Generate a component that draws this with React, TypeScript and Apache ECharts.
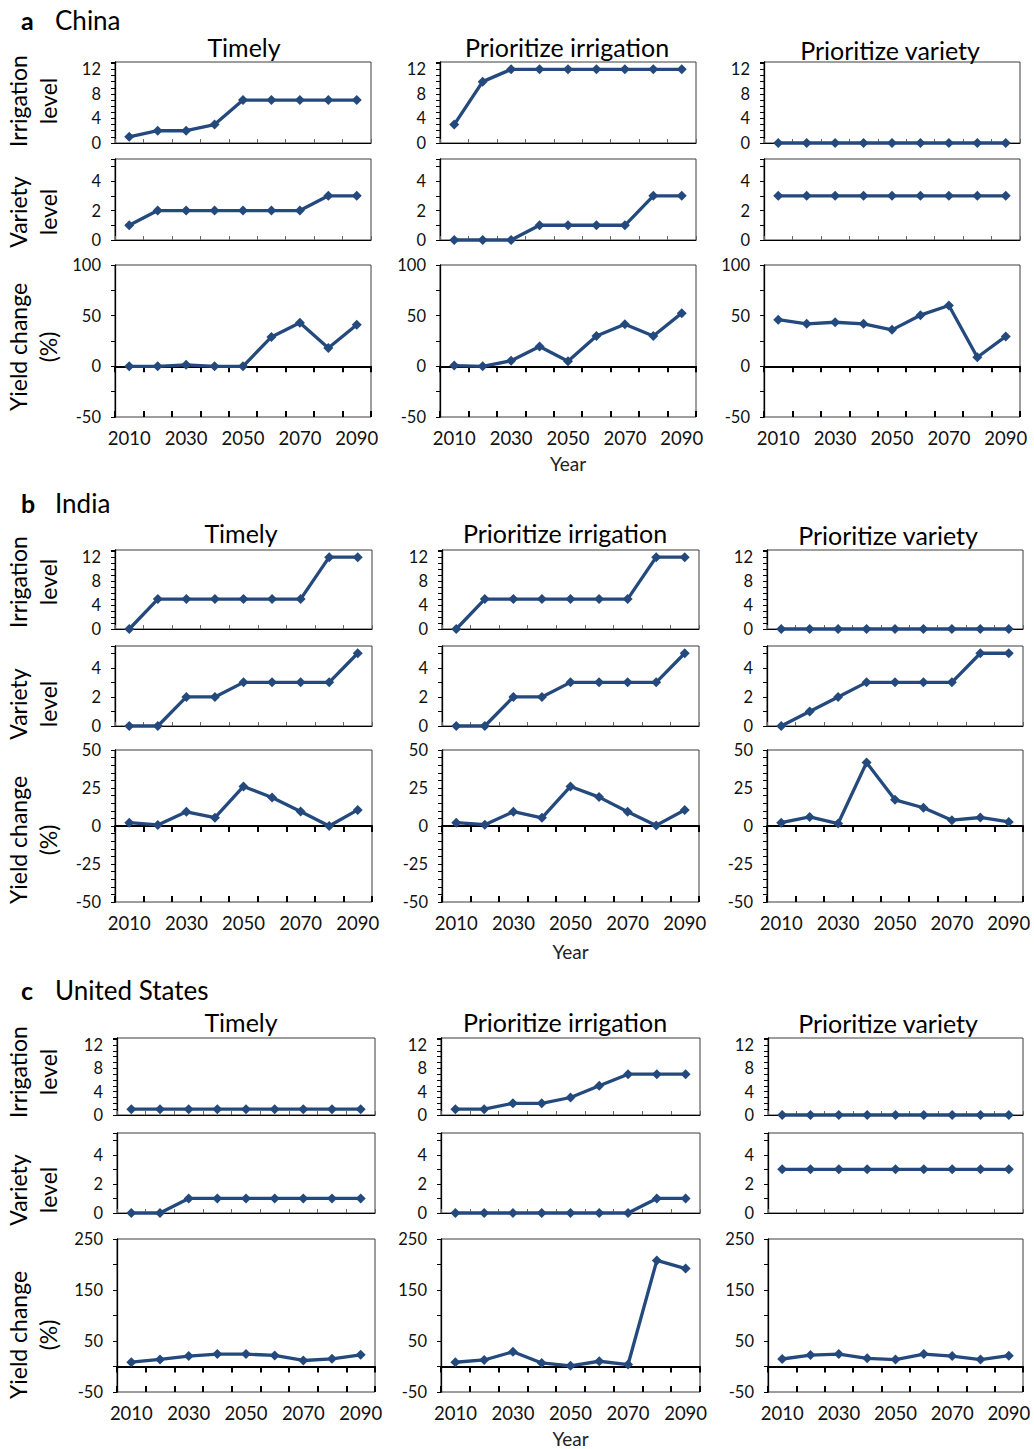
import React, { useEffect, useRef } from 'react';
import * as echarts from 'echarts';

// ---------- data ----------
const years = ['2010', '2020', '2030', '2040', '2050', '2060', '2070', '2080', '2090'];
const panelLetters = ['a', 'b', 'c'];
const countries = ['China', 'India', 'United States'];
const strategies = ['Timely', 'Prioritize irrigation', 'Prioritize variety'];
const rowNames = ['Irrigation\nlevel', 'Variety\nlevel', 'Yield change\n(%)'];

// China
const chinaTimelyIrrigation = [1, 2, 2, 3, 7, 7, 7, 7, 7];
const chinaTimelyVariety = [1, 2, 2, 2, 2, 2, 2, 3, 3];
const chinaTimelyYield = [0, 0, 1.5, 0, 0, 29, 43, 18, 41];
const chinaIrrFirstIrrigation = [3, 10, 12, 12, 12, 12, 12, 12, 12];
const chinaIrrFirstVariety = [0, 0, 0, 1, 1, 1, 1, 3, 3];
const chinaIrrFirstYield = [0.7, 0, 5.5, 19.5, 5, 30, 41.5, 30, 52.5];
const chinaVarFirstIrrigation = [0, 0, 0, 0, 0, 0, 0, 0, 0];
const chinaVarFirstVariety = [3, 3, 3, 3, 3, 3, 3, 3, 3];
const chinaVarFirstYield = [46, 42, 43.5, 42, 36, 50.5, 60, 9, 29.5];

// India
const indiaTimelyIrrigation = [0, 5, 5, 5, 5, 5, 5, 12, 12];
const indiaTimelyVariety = [0, 0, 2, 2, 3, 3, 3, 3, 5];
const indiaTimelyYield = [2.2, 0.7, 9.3, 5.5, 26, 18.8, 9.5, 0, 10.6];
const indiaIrrFirstIrrigation = [0, 5, 5, 5, 5, 5, 5, 12, 12];
const indiaIrrFirstVariety = [0, 0, 2, 2, 3, 3, 3, 3, 5];
const indiaIrrFirstYield = [2.2, 0.9, 9.4, 5.4, 26, 19, 9.4, 0.4, 10.5];
const indiaVarFirstIrrigation = [0, 0, 0, 0, 0, 0, 0, 0, 0];
const indiaVarFirstVariety = [0, 1, 2, 3, 3, 3, 3, 5, 5];
const indiaVarFirstYield = [2.2, 6, 1.6, 41.7, 17.2, 12, 3.8, 5.6, 2.7];

// United States
const usTimelyIrrigation = [1, 1, 1, 1, 1, 1, 1, 1, 1];
const usTimelyVariety = [0, 0, 1, 1, 1, 1, 1, 1, 1];
const usTimelyYield = [8.5, 13.8, 20.4, 24.3, 24.3, 21.7, 11.8, 15, 23];
const usIrrFirstIrrigation = [1, 1, 2, 2, 3, 5, 7, 7, 7];
const usIrrFirstVariety = [0, 0, 0, 0, 0, 0, 0, 1, 1];
const usIrrFirstYield = [8.3, 12.8, 28.8, 7, 1.3, 10.3, 3.8, 208, 192];
const usVarFirstIrrigation = [0, 0, 0, 0, 0, 0, 0, 0, 0];
const usVarFirstVariety = [3, 3, 3, 3, 3, 3, 3, 3, 3];
const usVarFirstYield = [14.7, 22.4, 24.4, 16, 13.5, 24.4, 20.5, 13.5, 21.2];

// [region][strategy][irrigation, variety, yield]
const dataTable = [
  [
    [chinaTimelyIrrigation, chinaTimelyVariety, chinaTimelyYield],
    [chinaIrrFirstIrrigation, chinaIrrFirstVariety, chinaIrrFirstYield],
    [chinaVarFirstIrrigation, chinaVarFirstVariety, chinaVarFirstYield],
  ],
  [
    [indiaTimelyIrrigation, indiaTimelyVariety, indiaTimelyYield],
    [indiaIrrFirstIrrigation, indiaIrrFirstVariety, indiaIrrFirstYield],
    [indiaVarFirstIrrigation, indiaVarFirstVariety, indiaVarFirstYield],
  ],
  [
    [usTimelyIrrigation, usTimelyVariety, usTimelyYield],
    [usIrrFirstIrrigation, usIrrFirstVariety, usIrrFirstYield],
    [usVarFirstIrrigation, usVarFirstVariety, usVarFirstYield],
  ],
];

// axis scales: [min, max, tickStep, labelStep]
const irrigationScale = [0, 13.2, 1, 4];
const varietyScale = [0, 5.5, 1, 2];
const yieldScales = [
  [-50, 100, 25, 50],
  [-50, 50, 5, 25],
  [-50, 250, 50, 100],
];

// ---------- layout ----------
const layouts = [
  {
    tops: [62, 159, 265], bottoms: [143, 240, 417],
    cols: [[115, 371], [440, 696], [764, 1020]],
    sectionY: 20, titleY: [47, 47, 50], titleX: [244, 567, 890],
    yearY: 463, nameY: [101, 212, 347],
  },
  {
    tops: [550, 646, 750], bottoms: [629, 726, 902],
    cols: [[115, 372], [442, 699], [767, 1023]],
    sectionY: 503, titleY: [533, 533, 535], titleX: [241, 565, 888],
    yearY: 951, nameY: [582, 704, 840],
  },
  {
    tops: [1038, 1133, 1239], bottoms: [1115, 1213, 1392],
    cols: [[117, 375], [441, 700], [768, 1023]],
    sectionY: 990, titleY: [1022, 1022, 1023], titleX: [241, 565, 888],
    yearY: 1438, nameY: [1072, 1190, 1335],
  },
];

const FONT = 'Lato, "Open Sans", sans-serif';
const LINE_COLOR = '#24497d';

function labelFormatter(min: number, step: number) {
  return (v: number) => {
    const r = Math.abs((v - min) % step);
    return r < 1e-6 || Math.abs(r - step) < 1e-6 ? String(v) : '';
  };
}

function buildOption() {
  const grid: any[] = [];
  const xAxis: any[] = [];
  const yAxis: any[] = [];
  const series: any[] = [];
  const graphic: any[] = [];

  layouts.forEach((L, r) => {
    graphic.push({
      type: 'text', x: 21, y: L.sectionY,
      style: { text: panelLetters[r], fontSize: 25, fontWeight: 'bold', fontFamily: FONT, fill: '#000', verticalAlign: 'middle', textVerticalAlign: 'middle' },
    });
    graphic.push({
      type: 'text', x: 55, y: L.sectionY,
      style: { text: countries[r], fontSize: 26, fontFamily: FONT, fill: '#000', verticalAlign: 'middle', textVerticalAlign: 'middle' },
    });
    for (let p = 0; p < 3; p++) {
      graphic.push({
        type: 'text', x: 33, y: L.nameY[p], rotation: Math.PI / 2,
        style: {
          text: rowNames[p], fontSize: 23, lineHeight: 30, fontFamily: FONT, fill: '#000',
          align: 'center', verticalAlign: 'middle', textAlign: 'center', textVerticalAlign: 'middle',
        },
      });
    }
    graphic.push({
      type: 'text', x: (L.cols[1][0] + L.cols[1][1]) / 2, y: L.yearY,
      style: { text: 'Year', fontSize: 19, fontFamily: FONT, fill: '#222', align: 'center', verticalAlign: 'middle', textAlign: 'center', textVerticalAlign: 'middle' },
    });

    for (let c = 0; c < 3; c++) {
      const [left, right] = L.cols[c];
      graphic.push({
        type: 'text', x: L.titleX[c], y: L.titleY[c],
        style: { text: strategies[c], fontSize: 25, fontFamily: FONT, fill: '#000', align: 'center', verticalAlign: 'middle', textAlign: 'center', textVerticalAlign: 'middle' },
      });
      for (let p = 0; p < 3; p++) {
        const gi = grid.length;
        grid.push({
          left, top: L.tops[p], width: right - left, height: L.bottoms[p] - L.tops[p],
          show: true, borderColor: '#3c3c3c', borderWidth: 1, backgroundColor: 'transparent',
        });
        const sc = p === 0 ? irrigationScale : p === 1 ? varietyScale : yieldScales[r];
        yAxis.push({
          type: 'value', gridIndex: gi, min: sc[0], max: sc[1], interval: sc[2],
          axisLine: { show: true, onZero: false, lineStyle: { color: '#000', width: 1.3 } },
          axisTick: { show: true, inside: false, length: 4, lineStyle: { color: '#000', width: 1 } },
          splitLine: { show: false },
          axisLabel: {
            fontSize: 16.5, fontFamily: FONT, color: '#111', margin: 14,
            formatter: labelFormatter(sc[0], sc[3]),
          },
        });
        const yi = yAxis.length - 1;
        let xi: number;
        if (p < 2) {
          xAxis.push({
            type: 'category', gridIndex: gi, data: years, boundaryGap: true, position: 'bottom',
            axisLine: { show: true, onZero: false, lineStyle: { color: '#000', width: 1 } },
            axisTick: { show: true, inside: true, interval: 0, length: 4, lineStyle: { color: '#666' } },
            axisLabel: { show: false }, splitLine: { show: false },
          });
          xi = xAxis.length - 1;
        } else {
          xAxis.push({
            type: 'category', gridIndex: gi, data: years, boundaryGap: true, position: 'bottom',
            axisLine: { show: true, onZero: true, lineStyle: { color: '#000', width: 2 } },
            axisTick: { show: true, inside: false, interval: 0, length: 6, lineStyle: { color: '#000', width: 2 } },
            axisLabel: { show: false }, splitLine: { show: false },
          });
          xi = xAxis.length - 1;
          xAxis.push({
            type: 'category', gridIndex: gi, data: years, boundaryGap: true, position: 'bottom',
            axisLine: { show: false, onZero: true },
            axisTick: { show: true, inside: true, interval: 0, length: 6, lineStyle: { color: '#000', width: 2 } },
            axisLabel: { show: false }, splitLine: { show: false },
          });
          xAxis.push({
            type: 'category', gridIndex: gi, data: years, boundaryGap: true, position: 'bottom',
            axisLine: { show: false, onZero: false },
            axisTick: { show: false },
            axisLabel: { show: true, interval: 1, margin: 11, fontSize: 18.5, fontFamily: FONT, color: '#111' },
            splitLine: { show: false },
          });
        }
        series.push({
          type: 'line', xAxisIndex: xi, yAxisIndex: yi,
          data: dataTable[r][c][p],
          symbol: 'diamond', symbolSize: 10, showSymbol: true, clip: false,
          lineStyle: { color: LINE_COLOR, width: 3.3 },
          itemStyle: { color: LINE_COLOR },
          z: 5,
        });
      }
    }
  });

  return {
    animation: false,
    backgroundColor: '#fff',
    grid, xAxis, yAxis, series, graphic,
  };
}

export default function App() {
  const ref = useRef<HTMLDivElement>(null);
  useEffect(() => {
    if (!ref.current) return;
    const chart = echarts.init(ref.current, undefined, { renderer: 'svg' });
    chart.setOption(buildOption() as any);
    return () => chart.dispose();
  }, []);
  return (
    <div
      ref={ref}
      style={{ position: 'absolute', left: 0, top: 0, width: 1034, height: 1449, background: '#fff' }}
    />
  );
}
